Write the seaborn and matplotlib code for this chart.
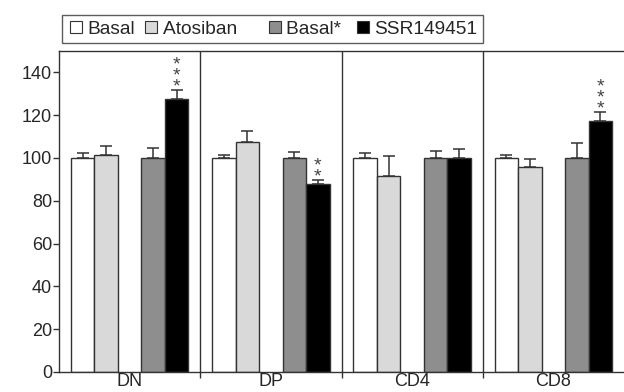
import pandas as pd
import matplotlib
matplotlib.use("Agg")
import matplotlib.pyplot as plt
from matplotlib.lines import Line2D
import seaborn as sns

# data
groups = ["DN", "DP", "CD4", "CD8"]
conditions = ["Basal", "Atosiban", "Basal*", "SSR149451"]
basal = [100, 100, 100, 100]
atosiban = [101.5, 107.5, 91.5, 95.8]
basal_star = [100, 100, 100, 100]
ssr = [127.8, 87.7, 100, 117.5]
basal_err = [2.4, 1.2, 2.5, 1.3]
atosiban_err = [3.9, 5.0, 9.3, 3.9]
basal_star_err = [4.7, 2.6, 3.2, 7.2]
ssr_err = [4.1, 2.2, 4.4, 4.1]
stars = ["***", "**", "", "***"]

colors = {"Basal": "white", "Atosiban": "#d9d9d9",
          "Basal*": "#8e8e8e", "SSR149451": "black"}
slots = {"Basal": 1, "Atosiban": 2, "Basal*": 4, "SSR149451": 5}

rows = []
for series, cond, errs in [(basal, "Basal", basal_err), (atosiban, "Atosiban", atosiban_err),
                           (basal_star, "Basal*", basal_star_err), (ssr, "SSR149451", ssr_err)]:
    for i, g in enumerate(groups):
        rows.append({"group": g, "condition": cond, "value": series[i], "err": errs[i],
                     "pos": i * 6 + slots[cond]})
df = pd.DataFrame(rows)

sns.set_style("ticks")
plt.rcParams["font.family"] = ["Liberation Sans", "DejaVu Sans"]

fig = plt.figure(figsize=(6.24, 3.92), dpi=100)
ax = fig.add_axes([59 / 624, 20 / 392, 565 / 624, 321 / 392])

sns.barplot(data=df, x="pos", y="value", hue="condition", hue_order=conditions,
            palette=colors, native_scale=True, dodge=False, width=1.0,
            edgecolor="#333333", linewidth=1.0, errorbar=None, legend=False, ax=ax)

ax.errorbar(df["pos"], df["value"], yerr=[[0] * len(df), df["err"]], fmt="none",
            ecolor="#333333", elinewidth=1.1, capsize=4.5, capthick=1.1, zorder=3)

# significance stars above SSR bars, stacked vertically
sub = df[df["condition"] == "SSR149451"].reset_index(drop=True)
for i, s in enumerate(stars):
    if s:
        ax.annotate("\n".join(s), xy=(sub["pos"][i], sub["value"][i] + sub["err"][i]),
                    xytext=(0, -4), textcoords="offset points", ha="center", va="bottom",
                    fontsize=14, linespacing=0.52, color="#444444")

for b in [6, 12, 18]:
    ax.axvline(b, color="#333333", lw=1.0, zorder=0)

ax.set_xlim(0, 24)
ax.set_ylim(0, 150)
ax.set_yticks([0, 20, 40, 60, 80, 100, 120, 140])
ax.set_xticks([3, 9, 15, 21])
ax.set_xticklabels(groups)
ax.set_xticks([6, 12, 18], minor=True)
ax.tick_params(axis="x", which="major", length=0, pad=1, labelsize=13)
ax.tick_params(axis="x", which="minor", length=4, width=1, color="#333333")
ax.tick_params(axis="y", length=4, width=1, color="#333333", pad=1, labelsize=13)
ax.set_xlabel("")
ax.set_ylabel("")
ax.spines["right"].set_visible(False)
for sp in ["left", "bottom", "top"]:
    ax.spines[sp].set_color("#333333")
    ax.spines[sp].set_linewidth(1.0)

handles = [Line2D([], [], marker="s", ls="none", markersize=8.5, markerfacecolor=colors[c],
                  markeredgecolor="#333333", markeredgewidth=0.8) for c in conditions]
labels = ["Basal", "Atosiban    ", "Basal* ", "SSR149451"]
leg = fig.legend(handles, labels, loc="center left", bbox_to_anchor=(52 / 624, 1 - 29 / 392),
                 ncol=4, frameon=True, fancybox=False, fontsize=13.8, handletextpad=0.15,
                 columnspacing=0.4, handlelength=0.9, borderpad=0.3)
leg.get_frame().set_edgecolor("#333333")
leg.get_frame().set_linewidth(1.0)

fig.savefig("out.png", dpi=100)
